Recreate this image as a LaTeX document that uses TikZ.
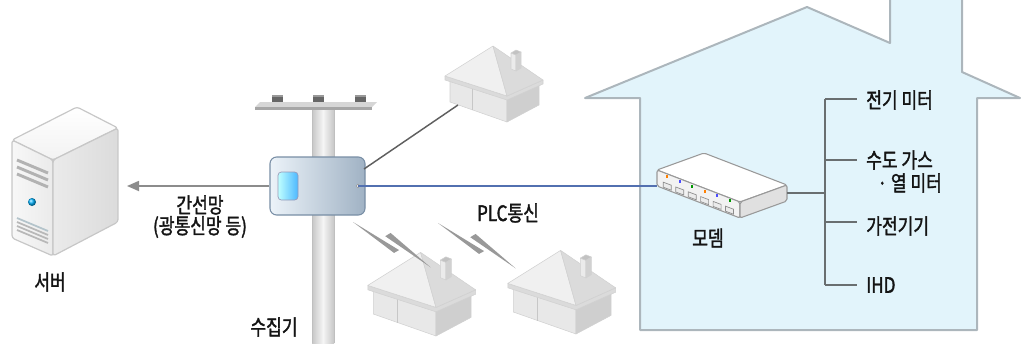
\documentclass[tikz,border=0pt]{standalone}
\usepackage{fontspec}
\newfontfamily\kr[FakeStretch=0.8, FakeBold=1.6]{Noto Sans CJK KR}
\usetikzlibrary{arrows.meta}

\definecolor{wallblue}{RGB}{226,244,251}
\definecolor{walledge}{RGB}{172,182,188}
\definecolor{plcblue}{RGB}{82,112,176}
\definecolor{trunkgray}{RGB}{140,140,140}
\definecolor{wiregray}{RGB}{95,95,95}
\definecolor{busgray}{RGB}{105,110,112}
\definecolor{inkdark}{RGB}{20,20,20}
\definecolor{boxedge}{RGB}{120,142,165}
\definecolor{boxlight}{RGB}{236,243,249}
\definecolor{boxdark}{RGB}{160,178,196}

\tikzset{
  lbl/.style={font=\kr\fontsize{16}{19}\selectfont, text=inkdark, inner sep=0pt},
  devlbl/.style={lbl, anchor=west, inner xsep=6.75pt, inner ysep=0pt},
  trunk/.style={draw=trunkgray, line width=1.3pt, -{Triangle[length=9pt,width=7.5pt]}},
  plcline/.style={draw=plcblue, line width=1.5pt},
  wire/.style={draw=wiregray, line width=1.1pt},
  busline/.style={draw=busgray, line width=1.3pt},
  collector/.style={draw=boxedge, line width=0.8pt, rounded corners=5pt,
    left color=boxlight, right color=boxdark,
    minimum width=71.25pt, minimum height=43.5pt, inner sep=0pt},
  faceedge/.style={draw=black!18, line width=0.4pt, line join=round},
  pics/cottage/.style={code={
    % walls
    \fill[faceedge, fill=black!9] (0,0) -- (-57,-20) -- (-57,-42) -- (0,-23) -- cycle;
    \fill[faceedge, fill=black!19] (0,0) -- (0,-23) -- (32,-38) -- (32,-17) -- cycle;
    \draw[black!22, line width=0.5pt] (-35,-12) -- (-35,-34);
    % eave band
    \fill[faceedge, fill=black!14] (-62,-46) -- (0,-26) -- (36,-42) -- (36,-38) -- (0,-22) -- (-62,-42) -- cycle;
    % roof faces
    \fill[faceedge, fill=black!6] (-62,-46) -- (-14,-76) -- (0,-26) -- cycle;
    \fill[faceedge, fill=black!14] (0,-26) -- (-14,-76) -- (36,-42) -- cycle;
    % chimney
    \fill[faceedge, fill=black!8] (4,-53) -- (4,-69) -- (9,-67) -- (9,-51) -- cycle;
    \fill[faceedge, fill=black!18] (9,-51) -- (9,-67) -- (14,-70) -- (14,-54) -- cycle;
    \fill[faceedge, fill=black!24] (4,-69) -- (9,-67) -- (14,-70) -- (9,-72) -- cycle;
  }},
  pics/bolt/.style={code={
    \fill[black!40] (0,0) -- (54,1) -- (51,6) -- cycle;
    \fill[black!40] (90,0) -- (35,-4) -- (38,-9.5) -- cycle;
  }}
}

\begin{document}
\begin{tikzpicture}[x=0.75pt,y=-0.75pt]
\useasboundingbox (0,0) rectangle (1021,343);

% ---------- home outline ----------
\fill[wallblue] (585,98) -- (807,7) -- (890,43) -- (890,0) -- (962,0) -- (962,72)
  -- (1020,98) -- (977,98) -- (977,330) -- (640,330) -- (640,98) -- cycle;
\draw[walledge, line width=1.5pt, line join=round]
  (890,0) -- (890,43) -- (807,7) -- (585,98) -- (640,98) -- (640,330)
  -- (977,330) -- (977,98) -- (1020,98) -- (962,72) -- (962,0);

% ---------- server ----------
\begin{scope}[line join=round]
  \draw[draw=black!22, line width=0.9pt, top color=white, bottom color=black!5, rounded corners=2pt]
    (12,140) -- (77,107) -- (118,128) -- (53,160) -- cycle;
  \draw[draw=black!22, line width=0.9pt, left color=black!3, right color=black!8, rounded corners=2pt]
    (12,140) -- (53,160) -- (53,256) -- (12,238) -- cycle;
  \draw[draw=black!22, line width=0.9pt, left color=black!8, right color=black!14, rounded corners=2pt]
    (53,160) -- (118,128) -- (118,222) -- (53,256) -- cycle;
  \foreach \yy in {160,167,174}
    \draw[black!30, line width=2.2pt] (17,\yy) -- (48,\yy+13);
  \foreach \yy/\cc in {218/cyan!35!black!35,222/black!28,226/black!28,230/black!28}
    \draw[\cc, line width=1.3pt] (17,\yy) -- (48,\yy+13);
  \shade[ball color=cyan!70!blue] (32,202) circle (4);
\end{scope}
\coordinate (srv) at (127,186);
\node[lbl] (srvlbl) at (50,282) {서버};

% ---------- pole ----------
\shade[left color=black!22, right color=black!22, middle color=black!4]
  (312,108) rectangle (334,343);
\draw[black!25, line width=0.5pt] (312,108) -- (312,343) (334,108) -- (334,343);
\fill[black!16] (260,102) -- (377,102) -- (372,107) -- (255,107) -- cycle;
\fill[black!35] (255,107) -- (372,107) -- (372,110) -- (255,110) -- cycle;
\foreach \xx in {272,313,355}{
  \fill[black!60] (\xx,95) rectangle (\xx+11,102);
  \fill[black!40] (\xx,95) rectangle (\xx+11,97);
}

% ---------- collector ----------
\node[collector] (col) at (317.5,186) {};
\draw[draw=blue!30!black!40, line width=0.5pt, rounded corners=2.5pt, left color=cyan!25, right color=cyan!60!blue!70]
  (278,172) rectangle (298,200);
\coordinate (port) at (358,186);
\coordinate (colne) at (364,169);
\filldraw[fill=white, draw=black!45, line width=0.4pt] (port) circle (1.8);
\node[lbl] (collbl) at (274,327) {수집기};

% trunk line to the server
\draw[trunk] (col.west) -- (srv);
\node[lbl] (trunk1) at (200,205) {간선망};
\node[lbl] (trunk2) at (200,227) {(광통신망 등)};

% ---------- houses ----------
\pic at (507,122) {cottage};
\coordinate (h1) at (458,105);
\draw[wire] (colne) -- (h1);
\pic[scale=1.1] at (436,336) {cottage};
\pic[scale=1.1] at (576,334) {cottage};
\pic[rotate=-30.3] at (353,222) {bolt};
\pic[rotate=-30.3] at (438,223) {bolt};

% ---------- modem ----------
\begin{scope}[line join=round, rounded corners=1.5pt]
  \draw[draw=black!40, line width=0.8pt, fill=white]
    (657,170) -- (704,153) -- (787,185) -- (740,202) -- cycle;
  \draw[draw=black!40, line width=0.8pt, fill=black!5]
    (657,170) -- (740,202) -- (740,218) -- (657,186) -- cycle;
  \draw[draw=black!40, line width=0.8pt, fill=black!12]
    (740,202) -- (787,185) -- (787,201) -- (740,218) -- cycle;
\end{scope}
\foreach \f/\cc in {0.1/orange,0.25/blue!70,0.4/green!60!black,0.55/orange,0.7/blue!70,0.85/green!60!black}{
  \fill[\cc] ({657+83*\f+1},{172+32*\f}) rectangle ++(2,3);
  \draw[black!45, line width=0.5pt, fill=black!8]
    ({657+83*\f-2},{179+32*\f}) -- ++(8,3) -- ++(0,5) -- ++(-8,-3) -- cycle;
}
\coordinate (modl) at (657,186);
\coordinate (modr) at (787,193);
\node[lbl] (modlbl) at (708,238) {모뎀};

% PLC link
\draw[plcline] (port) -- (modl);
\node[lbl] (plclbl) at (508,213) {PLC통신};

% ---------- in-home bus ----------
\coordinate (bus) at (825,193);
\coordinate (b1) at (825,99);
\coordinate (b2) at (825,160);
\coordinate (b3) at (825,222);
\coordinate (b4) at (825,285);
\draw[busline] (modr) -- (bus);
\draw[busline] (b1) -- (b4);
\node[devlbl] (d1) at (857,100) {전기 미터};
\node[devlbl] (d2) at (857,160) {수도 가스};
\node[lbl, anchor=east] (d2b) at (d2.east |- 0,183) {· 열 미터};
\node[devlbl] (d3) at (857,226) {가전기기};
\node[devlbl] (d4) at (857,285) {IHD};
\draw[busline] (b1) -- (b1 -| d1.west);
\draw[busline] (b2) -- (b2 -| d2.west);
\draw[busline] (b3) -- (b3 -| d3.west);
\draw[busline] (b4) -- (b4 -| d4.west);
\end{tikzpicture}
\end{document}
